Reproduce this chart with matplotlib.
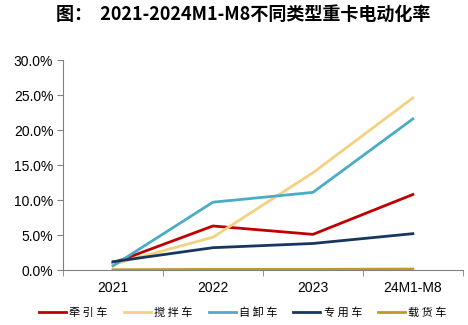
import matplotlib.pyplot as plt
from matplotlib.ticker import FuncFormatter

plt.rcParams['font.family'] = ['Liberation Sans', 'Noto Sans CJK SC', 'DejaVu Sans']

categories = ['2021', '2022', '2023', '24M1-M8']
series_names = ['牵引车', '搅拌车', '自卸车', '专用车', '载货车']
qianyin = [1.0, 6.3, 5.1, 10.8]
jiaoban = [0.8, 4.7, 13.9, 24.6]
zixie = [0.6, 9.7, 11.1, 21.6]
zhuanyong = [1.2, 3.2, 3.8, 5.2]
zaihuo = [0.05, 0.1, 0.1, 0.15]

colors = ['#C00000', '#F2D282', '#4BACC6', '#17375E', '#C09A28']
values = [qianyin, jiaoban, zixie, zhuanyong, zaihuo]

fig = plt.figure(figsize=(4.68, 3.25), dpi=100)
ax = fig.add_axes([0.1346, 0.169, 0.8544, 0.646])

x = list(range(len(categories)))
for name, vals, c in zip(series_names, values, colors):
    ax.plot(x, vals, color=c, lw=2, label=' '.join(name))

ax.set_xlim(-0.5, 3.5)
ax.set_ylim(0, 30)
ax.set_yticks([0, 5, 10, 15, 20, 25, 30])
ax.yaxis.set_major_formatter(FuncFormatter(lambda v, p: f'{v:.1f}%'))
ax.set_xticks(x)
ax.set_xticklabels(categories)
ax.set_xticks([-0.5, 0.5, 1.5, 2.5, 3.5], minor=True)
ax.tick_params(axis='x', which='major', length=0, labelsize=10, pad=8)
ax.tick_params(axis='x', which='minor', length=4, color='#808080')
ax.tick_params(axis='y', length=4, color='#808080', labelsize=10, pad=3)

for s in ['top', 'right']:
    ax.spines[s].set_visible(False)
for s in ['left', 'bottom']:
    ax.spines[s].set_color('#808080')

fig.text(0.52, 0.955, '图：  2021-2024M1-M8不同类型重卡电动化率', ha='center', va='center',
         fontsize=13, fontweight='bold', family=['Noto Sans CJK SC', 'DejaVu Sans'])

leg = fig.legend(loc='center', bbox_to_anchor=(0.519, 0.037), ncol=5, frameon=False,
                 handlelength=2.43, handletextpad=0.3, columnspacing=1.44,
                 borderpad=0, borderaxespad=0,
                 prop={'family': ['Noto Sans CJK SC', 'DejaVu Sans'], 'size': 8})

fig.savefig('out.png', dpi=100)
